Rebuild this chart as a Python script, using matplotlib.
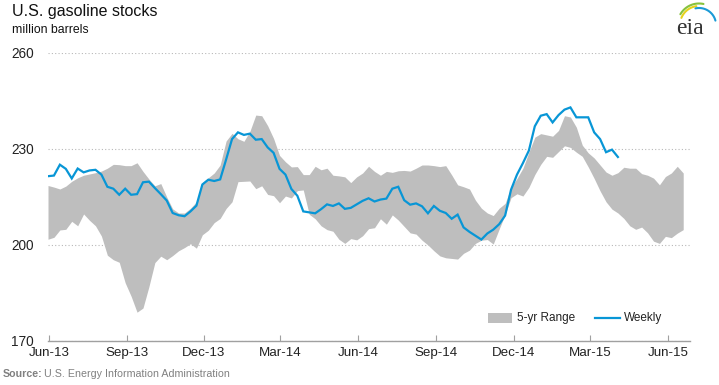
import matplotlib
matplotlib.use("Agg")
import matplotlib.pyplot as plt
import matplotlib.dates as mdates
from matplotlib.patches import Rectangle
from matplotlib.lines import Line2D
import numpy as np
import pandas as pd

plt.rcParams['font.family'] = ['Liberation Sans', 'DejaVu Sans']

# ---------------- data ----------------
title = "U.S. gasoline stocks"
subtitle = "million barrels"
source_bold = "Source:"
source_rest = "U.S. Energy Information Administration"
legend_labels = ["5-yr Range", "Weekly"]

start_date = "2013-05-31"

weekly = [221.5, 221.7, 225.1, 223.8, 220.8, 223.9, 222.7, 223.3, 223.5, 222.0,
          218.2, 217.6, 215.7, 217.6, 215.7, 215.9, 219.6, 219.8, 217.8, 215.9,
          213.9, 210.0, 209.3, 209.0, 210.5, 212.3, 218.9, 220.4, 220.0, 220.5,
          226.7, 233.1, 235.2, 234.4, 234.8, 232.9, 233.1, 230.5, 228.8, 223.8,
          222.0, 217.5, 215.4, 210.5, 210.2, 209.9, 211.2, 212.7, 212.2, 213.0,
          211.3, 211.6, 212.7, 213.8, 214.6, 213.6, 214.2, 214.5, 217.6, 218.2,
          214.0, 212.6, 213.0, 212.1, 209.9, 212.2, 210.7, 210.0, 208.2, 209.5,
          205.5, 204.1, 202.9, 201.7, 203.6, 204.8, 206.5, 209.2, 217.3, 222.0,
          225.6, 229.5, 237.1, 240.4, 240.9, 238.3, 240.6, 242.3, 243.0, 239.9,
          239.9, 239.9, 235.2, 233.1, 229.0, 229.8, 227.5]

range_high = [218.6, 218.1, 217.5, 218.4, 219.9, 221.0, 221.8, 222.2, 222.6, 223.1,
              224.0, 225.2, 225.1, 224.8, 224.8, 225.7, 223.0, 220.6, 218.5, 219.2,
              215.0, 211.3, 210.0, 210.0, 211.5, 213.5, 219.5, 221.0, 222.5, 225.0,
              232.5, 234.9, 233.2, 232.4, 235.5, 240.6, 240.4, 237.3, 233.3, 228.0,
              226.0, 224.4, 224.5, 222.0, 222.0, 224.6, 223.5, 224.0, 221.8, 221.6,
              221.3, 219.5, 221.3, 222.5, 224.6, 223.0, 221.8, 223.0, 222.7, 223.2,
              223.3, 223.1, 224.0, 225.0, 225.0, 224.8, 224.5, 224.8, 221.9, 218.8,
              218.2, 217.5, 214.0, 211.5, 210.0, 209.2, 211.5, 213.0, 218.0, 220.8,
              224.0, 229.0, 233.7, 234.8, 234.4, 234.0, 235.8, 240.4, 240.0, 236.8,
              231.2, 228.8, 227.2, 225.0, 222.8, 221.8, 222.6, 224.3, 224.0, 224.0,
              222.3, 221.8, 220.9, 218.8, 221.4, 222.5, 224.6, 222.5]

range_low = [201.8, 202.4, 204.7, 204.9, 207.4, 206.0, 209.7, 207.7, 206.0, 202.8,
             196.8, 195.4, 194.6, 188.2, 184.0, 179.0, 180.3, 187.0, 194.5, 196.5,
             195.4, 196.7, 198.2, 199.2, 200.4, 199.0, 203.2, 204.6, 207.0, 208.3,
             211.4, 213.5, 219.8, 219.9, 220.0, 217.6, 218.5, 215.8, 215.4, 213.2,
             215.3, 214.7, 217.0, 217.2, 209.6, 208.2, 206.0, 204.8, 204.3, 201.8,
             200.5, 202.0, 201.6, 202.9, 205.1, 205.4, 208.2, 206.5, 209.4, 207.8,
             205.8, 203.8, 203.4, 201.5, 200.0, 198.2, 196.6, 196.0, 195.8, 195.6,
             197.4, 198.4, 200.5, 201.5, 201.7, 200.3, 205.0, 209.5, 214.8, 216.0,
             215.3, 218.0, 222.0, 225.2, 227.7, 227.4, 229.2, 231.0, 230.5, 229.0,
             227.7, 224.4, 220.8, 216.9, 213.5, 211.2, 210.0, 208.3, 206.0, 204.9,
             205.6, 203.8, 201.2, 200.5, 202.7, 202.3, 203.7, 204.8]

y_ticks = [170, 200, 230, 260]

# ---------------- figure ----------------
W_PX, H_PX = 719, 385
fig = plt.figure(figsize=(W_PX / 100, H_PX / 100), dpi=100)
fig.patch.set_facecolor('white')


def fx(px):
    return px / W_PX


def fy(py):
    return 1 - py / H_PX


ax = fig.add_axes([fx(48), fy(341), fx(690) - fx(48), fy(53) - fy(341)])

dates_band = pd.date_range(start_date, periods=len(range_high), freq="7D")
dates_week = pd.date_range(start_date, periods=len(weekly), freq="7D")

ax.fill_between(dates_band, range_low, range_high, color='#BEBEBE', lw=0, zorder=2)
ax.plot(dates_week, weekly, color='#0896D6', lw=1.6, zorder=3, solid_joinstyle='miter')

ax.set_ylim(170, 260)
ax.set_yticks(y_ticks)
ax.set_xlim(pd.Timestamp(start_date), pd.Timestamp("2015-06-27"))
ax.xaxis.set_major_locator(mdates.MonthLocator(bymonth=[3, 6, 9, 12]))
ax.xaxis.set_major_formatter(mdates.DateFormatter('%b-%y'))

for s in ['top', 'right', 'left']:
    ax.spines[s].set_visible(False)
ax.spines['bottom'].set_color('#A0A0A0')
ax.spines['bottom'].set_linewidth(1.0)

ax.set_axisbelow(True)
ax.yaxis.grid(True, linestyle=(0, (1, 2)), color='#B8B8B8', lw=0.8)
ax.tick_params(axis='y', length=0, pad=10, labelsize=9.8, labelcolor='#222222')
ax.tick_params(axis='x', direction='in', length=4, width=0.8, color='#A0A0A0',
               pad=4, labelsize=9.6, labelcolor='#222222')

# titles
fig.text(fx(12), fy(4), title, fontsize=11.5, va='top', ha='left', color='#111111')
fig.text(fx(12), fy(24), subtitle, fontsize=8.8, va='top', ha='left', color='#111111')

# legend (manual)
fig.patches.append(Rectangle((fx(488), fy(323)), fx(24), 10 / H_PX,
                             transform=fig.transFigure, facecolor='#BEBEBE',
                             edgecolor='none'))
fig.text(fx(517), fy(318), legend_labels[0], fontsize=8.5, va='center', ha='left',
         color='#222222')
fig.lines.append(Line2D([fx(595), fx(620)], [fy(318), fy(318)],
                        transform=fig.transFigure, color='#0896D6', lw=1.6))
fig.text(fx(624), fy(318), legend_labels[1], fontsize=8.5, va='center', ha='left',
         color='#222222')

# source
fig.text(fx(3), fy(374), source_bold, fontsize=7.7, fontweight='bold', va='center',
         ha='left', color='#808080')
fig.text(fx(44), fy(374), source_rest, fontsize=7.7, va='center', ha='left',
         color='#808080')

# eia logo (pixel coordinates, y downward)
lax = fig.add_axes([0, 0, 1, 1], zorder=5)
lax.set_xlim(0, W_PX)
lax.set_ylim(H_PX, 0)
lax.axis('off')
cx, cy = 699, 25
for r, a0, a1, col in [(19, 158, 98, '#E6D21C'), (21.5, 150, 78, '#86C23C'),
                       (17, 102, 15, '#1B9AD6')]:
    th = np.radians(np.linspace(a0, a1, 40))
    lax.plot(cx + r * np.cos(th), cy - r * np.sin(th), color=col, lw=1.5,
             solid_capstyle='round')
lax.text(690, 29, 'eia', fontsize=17, family=['Liberation Serif', 'DejaVu Serif'],
         ha='center', va='center', color='#333333')

fig.savefig('out.png', dpi=100)
